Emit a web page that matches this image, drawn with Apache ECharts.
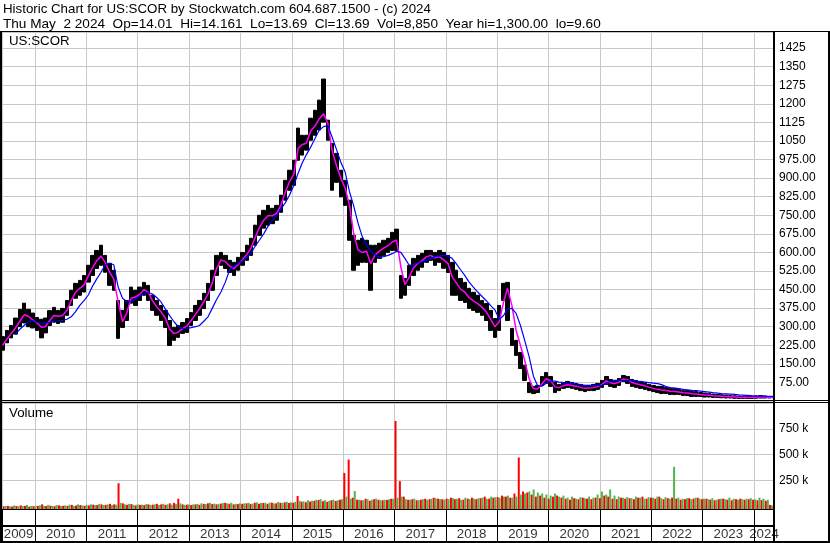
<!DOCTYPE html>
<html><head><meta charset="utf-8">
<script src="https://cdn.jsdelivr.net/npm/echarts@6/dist/echarts.min.js"></script>
<style>html,body{margin:0;padding:0;background:#fff}#c{width:830px;height:543px}</style>
</head><body><div id="c"></div>
<script>
// ---- data (monthly samples, May 2009 .. May 2024) ----
const firstYear = 2009, firstMonth = 5;
const yearLabels = ['2009','2010','2011','2012','2013','2014','2015','2016','2017','2018','2019','2020','2021','2022','2023','2024'];
const volumeTickLabels = {250:'250 k', 500:'500 k', 750:'750 k'};

const priceHigh = [
 260,285,305,335,370,395,370,355,
 337,330,335,365,378,366,374,406,447,475,487,507,
 548,588,608,629,588,556,528,406,366,406,460,447,
 460,479,467,427,406,386,366,325,297,305,317,333,
 357,386,406,435,475,528,588,600,588,568,560,580,
 600,629,657,710,750,770,790,778,790,831,891,932,
 972,1102,1073,1073,1142,1174,1215,1300,1134,1040,1000,932,
 891,811,669,649,657,649,629,629,637,649,657,681,
 694,507,495,548,576,588,596,608,608,600,608,600,
 588,560,528,495,479,455,439,427,406,394,366,333,
 386,475,479,293,245,196,144,75,59,63,99,115,
 99,75,67,75,79,75,71,67,63,63,67,71,
 83,99,87,83,91,103,99,87,83,79,75,67,
 63,59,59,55,51,51,47,42,42,38,38,34,
 32,30,28,26,25,24,22,21,20,19,18,18,
 20,22,20,18,14.2
];
const priceLow = [
 205,235,255,270,300,315,300,295,
 285,255,275,305,318,313,318,346,386,415,427,440,
 480,507,535,548,520,467,447,253,297,325,395,386,
 406,427,406,366,346,325,297,224,245,257,273,277,
 305,325,346,373,406,447,507,548,535,519,507,528,
 548,568,588,629,669,698,710,716,730,762,811,851,
 871,972,993,1013,1053,1073,1094,1126,1053,851,883,824,
 790,649,528,548,560,560,447,560,576,588,600,608,
 608,415,427,467,507,528,540,560,568,548,560,536,
 519,427,427,406,398,374,366,358,346,325,285,257,
 285,406,325,224,184,131,83,34,30,34,63,71,
 59,34,42,51,55,51,47,42,38,42,42,47,
 55,67,59,55,63,79,71,59,55,51,47,42,
 38,34,30,30,26,26,26,22,22,18,18,18,
 16,16,14,14,13,12,12,11,10,10,10,10,
 11,12,12,12,13.7
];
const maFast = [
 225,250,272,295,322,348,342,328,
 315,298,300,325,345,342,345,365,405,438,455,468,
 505,540,566,585,560,520,492,400,320,355,415,420,
 430,450,440,405,380,360,335,290,272,278,292,302,
 325,350,372,400,432,478,535,570,563,545,535,550,
 570,592,615,660,700,730,748,748,758,790,842,885,
 915,1020,1035,1042,1090,1110,1140,1160,1120,1010,950,900,
 860,790,680,610,600,605,555,590,605,617,627,642,
 650,540,470,500,537,556,567,582,588,577,583,570,
 556,500,478,452,440,417,404,393,378,360,330,300,
 320,400,455,386,285,224,164,91,50,48,70,90,
 82,57,54,62,66,63,60,55,51,52,54,58,
 67,81,74,70,76,89,86,75,70,66,62,55,
 51,47,44,42,39,38,36,33,32,29,28,26,
 24,23,21,20,19,18,17,16,15,14.5,14,14,
 15,17,16,15,14
];
const maSlow = [
 null,null,null,270,290,305,320,325,
 318,315,315,318,322,324,325,330,340,360,386,405,
 428,465,492,520,550,556,550,460,415,402,400,410,
 425,433,438,432,418,400,372,345,320,300,292,293,
 296,300,305,322,340,375,410,440,480,528,545,555,
 565,580,595,625,649,675,705,728,750,775,800,831,
 870,920,960,995,1025,1060,1094,1108,1112,1065,1015,965,
 925,845,790,720,665,630,605,590,580,583,588,595,
 605,600,576,548,550,558,562,570,577,582,585,588,
 585,575,555,530,507,480,460,440,422,405,385,368,
 330,345,372,374,354,305,245,180,100,62,60,72,
 80,80,76,74,72,71,70,65,63,63,63,63,
 64,70,80,83,83,83,83,82,80,78,76,74,
 72,70,66,58,54,52,50,47,45,43,42,40,
 38,36,34,32,30,29,28,27,25,24,23,22,
 21,20,20,19,19
];
// volume, thousands of shares
const volDown = [
 25,30,22,28,35,30,20,26,
 30,45,28,32,25,35,30,28,40,33,38,30,
 35,42,38,45,40,50,45,250,55,40,48,35,
 40,38,45,42,50,45,40,55,60,100,45,42,
 38,45,40,50,55,48,45,52,60,50,45,48,
 50,55,48,60,52,58,50,62,55,60,65,58,
 60,126,70,65,72,80,87,75,70,85,78,90,
 350,480,110,90,85,100,80,95,90,85,88,100,
 854,270,120,90,95,85,90,100,95,110,100,95,
 100,110,95,105,90,100,110,95,105,120,100,110,
 115,130,120,110,150,500,170,160,140,120,130,110,
 100,120,130,110,100,90,105,95,110,100,95,110,
 105,130,120,100,95,110,100,105,95,110,120,100,
 110,100,120,95,105,110,100,90,95,105,100,110,
 95,100,90,85,95,100,90,85,95,100,90,95,
 90,85,87,80,40
];
const volUp = [
 30,22,35,25,28,40,30,25,
 35,30,40,28,38,30,35,42,30,45,35,40,
 45,38,50,40,45,38,42,60,45,50,40,45,
 42,48,40,45,38,50,45,42,48,55,40,45,
 45,50,55,48,60,52,50,58,55,60,50,55,
 55,60,52,65,58,60,62,55,68,60,70,65,
 70,80,75,85,80,90,95,85,80,90,85,95,
 120,100,175,90,85,95,90,100,85,90,95,100,
 110,120,95,90,100,85,95,90,100,105,95,90,
 95,105,100,90,110,95,100,105,110,100,120,115,
 110,120,130,110,120,140,150,170,190,160,150,140,
 130,150,120,130,110,120,100,115,105,120,110,140,
 170,140,190,130,120,110,115,105,120,110,100,115,
 110,120,105,115,100,410,110,100,105,95,110,100,
 100,95,105,90,100,95,110,100,90,95,100,105,
 95,110,100,90,35
];

// ---- build ----
const months = priceHigh.map((_, i) => {
  const m0 = firstMonth - 1 + i;
  return new Date(firstYear + Math.floor(m0 / 12), m0 % 12, 15).getTime();
});
const xMin = new Date(2009, 4, 11).getTime();
const xMax = new Date(2024, 4, 22).getTime();
const FONT = '"Liberation Sans", Arial, sans-serif';

const candle = months.map((t, i) => [t, priceLow[i], priceHigh[i], priceLow[i], priceHigh[i]]);
const fast = months.map((t, i) => [t, maFast[i]]);
const slow = months.map((t, i) => [t, maSlow[i]]);
const vDown = months.map((t, i) => [t, volDown[i]]);
const vUp = months.map((t, i) => [t, volUp[i]]);
const yearMarks = yearLabels.map(s => {
  const y = +s;
  const a = Math.max(new Date(y, 0, 1).getTime(), xMin);
  const b = Math.min(new Date(y + 1, 0, 1).getTime(), xMax);
  return [(a + b) / 2, 0.24, s];
});

const GRID = '#c8c8c8';
function xAx(gi, split, color) {
  return {type: 'time', gridIndex: gi, min: xMin, max: xMax, splitNumber: 15,
    minInterval: 365 * 864e5, axisLine: {show: false}, axisTick: {show: false},
    axisLabel: {show: false}, splitLine: {show: split, lineStyle: {color: color, width: 1}}};
}
const grids = [
  {left: 2, top: 32, width: 772, height: 369},
  {left: 2, top: 403, width: 772, height: 106},
  {left: 2, top: 403, width: 772, height: 103},
  {left: 2, top: 510, width: 772, height: 32}
].map(g => Object.assign(g, {containLabel: false, outerBoundsMode: 'none'}));

const frame = [
  [0, 31, 830, 1], [0, 31, 2, 512], [773, 31, 2, 512], [828, 31, 2, 512],
  [0, 400, 830, 1], [0, 402, 830, 1], [0, 509, 774, 1], [0, 525, 774, 2], [0, 541, 830, 2]
].map(r => ({type: 'rect', shape: {x: r[0], y: r[1], width: r[2], height: r[3]}, style: {fill: '#000'}, z: 100, silent: true}));

const texts = [
  {left: 3, top: 3, size: 13.3, text: 'Historic Chart for US:SCOR by Stockwatch.com 604.687.1500 - (c) 2024'},
  {left: 3, top: 17, size: 13.6, text: 'Thu May  2 2024  Op=14.01  Hi=14.161  Lo=13.69  Cl=13.69  Vol=8,850  Year hi=1,300.00  lo=9.60'},
  {left: 9, top: 35, size: 13.3, text: 'US:SCOR'},
  {left: 9, top: 407, size: 13.3, text: 'Volume'}
].map(t => ({type: 'text', left: t.left, top: t.top, z: 101, silent: true,
  style: {text: t.text, fontSize: t.size, fontFamily: FONT, fill: '#000'}}));

const chart = echarts.init(document.getElementById('c'), null, {renderer: 'canvas'});
chart.setOption({
  animation: false,
  backgroundColor: '#fff',
  grid: grids,
  xAxis: [xAx(0, true, GRID), xAx(1, false, GRID), xAx(2, true, GRID), xAx(3, true, '#000')],
  yAxis: [
    {type: 'value', gridIndex: 0, position: 'right', min: 0, max: 1490, interval: 75,
      axisLine: {show: false}, axisTick: {show: false},
      splitLine: {lineStyle: {color: GRID, width: 1}},
      axisLabel: {margin: 5, color: '#000', fontSize: 12, fontFamily: FONT,
        formatter: v => (v <= 0 || v % 75) ? '' : (v >= 1050 ? String(v) : v.toFixed(2))}},
    {type: 'value', gridIndex: 1, min: 0, max: 1029, show: false, splitLine: {show: false}},
    {type: 'value', gridIndex: 2, position: 'right', min: 0, max: 1000, interval: 250,
      axisLine: {show: false}, axisTick: {show: false},
      splitLine: {lineStyle: {color: GRID, width: 1}},
      axisLabel: {margin: 5, color: '#000', fontSize: 12, fontFamily: FONT,
        formatter: v => volumeTickLabels[v] || ''}},
    {type: 'value', gridIndex: 3, min: 0, max: 1, show: false, splitLine: {show: false}}
  ],
  graphic: frame.concat(texts),
  series: [
    {type: 'candlestick', xAxisIndex: 0, yAxisIndex: 0, data: candle, barWidth: 4,
      encode: {x: 0, y: [1, 2, 3, 4]},
      itemStyle: {color: '#000', color0: '#000', borderColor: '#000', borderColor0: '#000', borderWidth: 1}},
    {type: 'line', xAxisIndex: 0, yAxisIndex: 0, data: fast, showSymbol: false, z: 3,
      lineStyle: {color: '#ff00ff', width: 1.5}},
    {type: 'line', xAxisIndex: 0, yAxisIndex: 0, data: slow, showSymbol: false, z: 4,
      lineStyle: {color: '#0000ff', width: 1.2}},
    {type: 'bar', xAxisIndex: 1, yAxisIndex: 1, data: vDown, barWidth: 2, barGap: '0%',
      itemStyle: {color: '#ff0000'}},
    {type: 'bar', xAxisIndex: 1, yAxisIndex: 1, data: vUp, barWidth: 2, barGap: '0%',
      itemStyle: {color: '#50b450'}},
    {type: 'scatter', xAxisIndex: 3, yAxisIndex: 3, data: yearMarks, symbolSize: 1, silent: true,
      itemStyle: {color: 'rgba(0,0,0,0)'},
      label: {show: true, position: 'inside', formatter: p => p.value[2], color: '#000', fontSize: 13.3, fontFamily: FONT}}
  ]
});
</script></body></html>
